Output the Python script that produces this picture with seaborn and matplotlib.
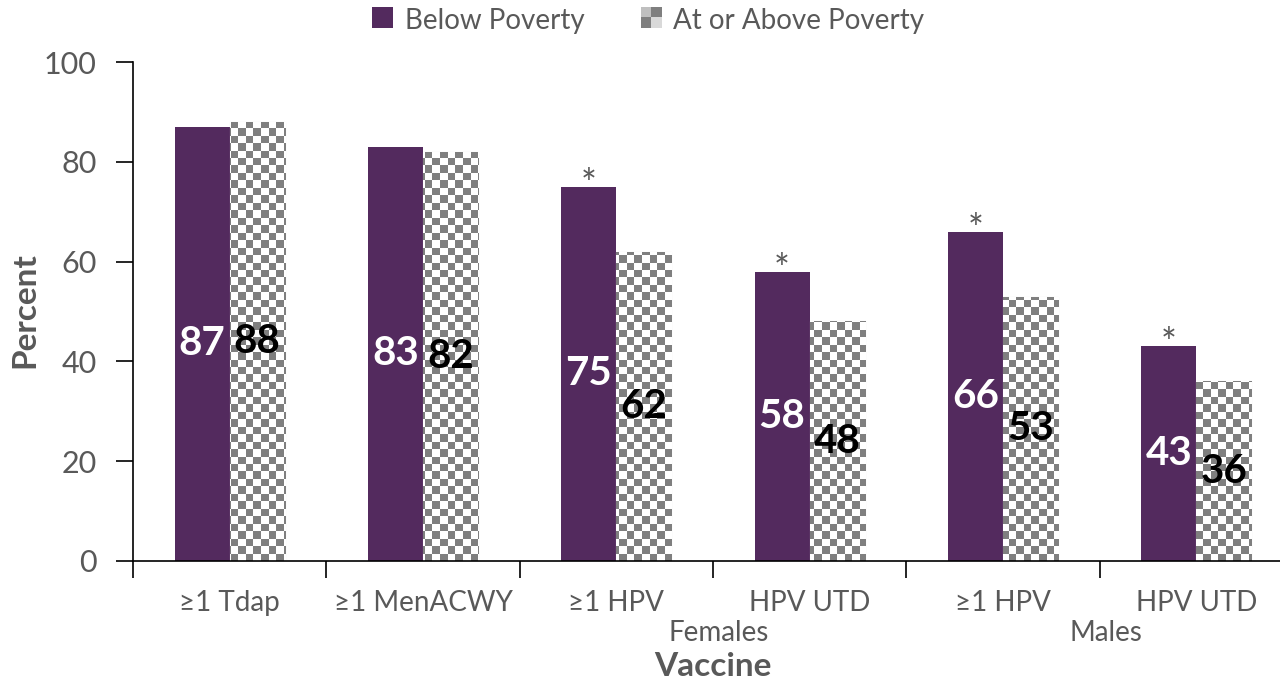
import numpy as np
import pandas as pd
import matplotlib
matplotlib.use("Agg")
import matplotlib.pyplot as plt
from matplotlib.patches import Rectangle, Patch
import seaborn as sns

# data
vaccines = ["≥1 Tdap", "≥1 MenACWY", "≥1 HPV", "HPV UTD", "≥1 HPV", "HPV UTD"]
below_poverty = [87, 83, 75, 58, 66, 43]
above_poverty = [88, 82, 62, 48, 53, 36]
significant = [False, False, True, True, True, True]
groups = ["Females", "Males"]
group_pos = [2.53, 4.53]
series_names = ["Below Poverty", "At or Above Poverty"]

PURPLE = "#532A5E"
CHECK_GREY = "#7F7F7F"
TEXT_GREY = "#595959"

sns.set_style("white")
plt.rcParams["font.family"] = ["Lato", "DejaVu Sans"]

df = pd.DataFrame({
    "pos": list(range(len(vaccines))) * 2,
    "Percent": below_poverty + above_poverty,
    "series": [series_names[0]] * len(vaccines) + [series_names[1]] * len(vaccines),
})

fig = plt.figure(figsize=(12.8, 6.82), dpi=100)
ax = fig.add_axes([133 / 1280, 121 / 682, 1160 / 1280, 499 / 682])

sns.barplot(data=df, x="pos", y="Percent", hue="series", hue_order=series_names,
            palette=[PURPLE, "white"], width=0.57, saturation=1, native_scale=True,
            legend=False, ax=ax)

ax.set_xlim(-0.5, 5.5)
ax.set_ylim(0, 100)

# checkerboard fill for the second series
cell = 7.5
nx = int(1160 / cell) + 1
ny = int(499 / cell) + 1
checker = (np.add.outer(np.arange(ny), np.arange(nx)) % 2).astype(float)
for bar in ax.containers[1]:
    bar.set_edgecolor("#D9D9D9")
    bar.set_linewidth(0.8)
    im = ax.imshow(checker, cmap=matplotlib.colors.ListedColormap(["white", CHECK_GREY]),
                   extent=(-0.5, 5.5, 0, 100), aspect="auto", interpolation="nearest",
                   zorder=bar.get_zorder() + 0.1, origin="lower")
    im.set_clip_path(bar)
for bar in ax.containers[0]:
    bar.set_edgecolor("none")

# value labels in the middle of each bar
for bar, val in zip(ax.containers[0], below_poverty):
    ax.text(bar.get_x() + bar.get_width() / 2, val / 2, str(val), ha="center", va="center",
            color="white", fontsize=29, fontweight="bold", zorder=5)
for bar, val in zip(ax.containers[1], above_poverty):
    ax.text(bar.get_x() + bar.get_width() / 2, val / 2, str(val), ha="center", va="center",
            color="black", fontsize=29, fontweight="bold", zorder=5)

# significance asterisks
for bar, val, sig in zip(ax.containers[0], below_poverty, significant):
    if sig:
        ax.text(bar.get_x() + bar.get_width() / 2, val - 2.0, "*", ha="center", va="baseline",
                color=TEXT_GREY, fontsize=27)

# axes styling
for side in ["top", "right"]:
    ax.spines[side].set_visible(False)
ax.spines["left"].set_color("black")
ax.spines["bottom"].set_color("black")
ax.spines["left"].set_linewidth(1.2)
ax.spines["bottom"].set_linewidth(1.2)

ax.set_yticks(range(0, 101, 20))
ax.tick_params(axis="y", which="major", direction="out", length=12, width=1.2,
               color="black", labelsize=22, labelcolor=TEXT_GREY, pad=14, left=True)

ax.set_xticks(np.arange(-0.5, 6, 1.0))
ax.set_xticklabels([])
ax.tick_params(axis="x", which="major", direction="out", length=12, width=1.2,
               color="black", bottom=True)
ax.set_xticks(range(len(vaccines)), minor=True)
ax.set_xticklabels(vaccines, minor=True)
ax.tick_params(axis="x", which="minor", length=0, labelsize=20, labelcolor=TEXT_GREY, pad=21)

for g, p in zip(groups, group_pos):
    ax.text(p, -14.4, g, ha="center", va="center", fontsize=20, color=TEXT_GREY,
            transform=ax.transData, clip_on=False)

ax.set_xlabel("")
ax.set_ylabel("")
fig.text(713 / 1280, 1 - 666 / 682, "Vaccine", ha="center", va="center", fontsize=24,
         fontweight="bold", color=TEXT_GREY)
fig.text(25 / 1280, 1 - 310 / 682, "Percent", ha="center", va="center", fontsize=24,
         fontweight="bold", color=TEXT_GREY, rotation=90)


class CheckerHandler:
    def legend_artist(self, legend, orig_handle, fontsize, handlebox):
        x0, y0 = handlebox.xdescent, handlebox.ydescent
        s = handlebox.height
        x0 = x0 + (handlebox.width - s) / 2
        h = s / 2
        cols = [["#BFBFBF", CHECK_GREY], [CHECK_GREY, "#D9D9D9"]]
        for i in range(2):
            for j in range(2):
                r = Rectangle((x0 + j * h, y0 + (1 - i) * h), h, h, facecolor=cols[i][j],
                              edgecolor="none", transform=handlebox.get_transform())
                handlebox.add_artist(r)
        return r


class SquareHandler:
    def legend_artist(self, legend, orig_handle, fontsize, handlebox):
        x0, y0 = handlebox.xdescent, handlebox.ydescent
        s = handlebox.height
        x0 = x0 + (handlebox.width - s) / 2
        r = Rectangle((x0, y0), s, s, facecolor=PURPLE, edgecolor="none",
                      transform=handlebox.get_transform())
        handlebox.add_artist(r)
        return r


h1 = Patch(facecolor=PURPLE)
h2 = Patch(facecolor=CHECK_GREY)
fig.legend([h1, h2], series_names, loc="center", bbox_to_anchor=(648 / 1280, 1 - 21 / 682),
           ncol=2, frameon=False, fontsize=20, labelcolor=TEXT_GREY, handlelength=0.8,
           handleheight=0.8, handletextpad=0.4, columnspacing=2.0,
           handler_map={h1: SquareHandler(), h2: CheckerHandler()})

fig.savefig("out.png", dpi=100)
